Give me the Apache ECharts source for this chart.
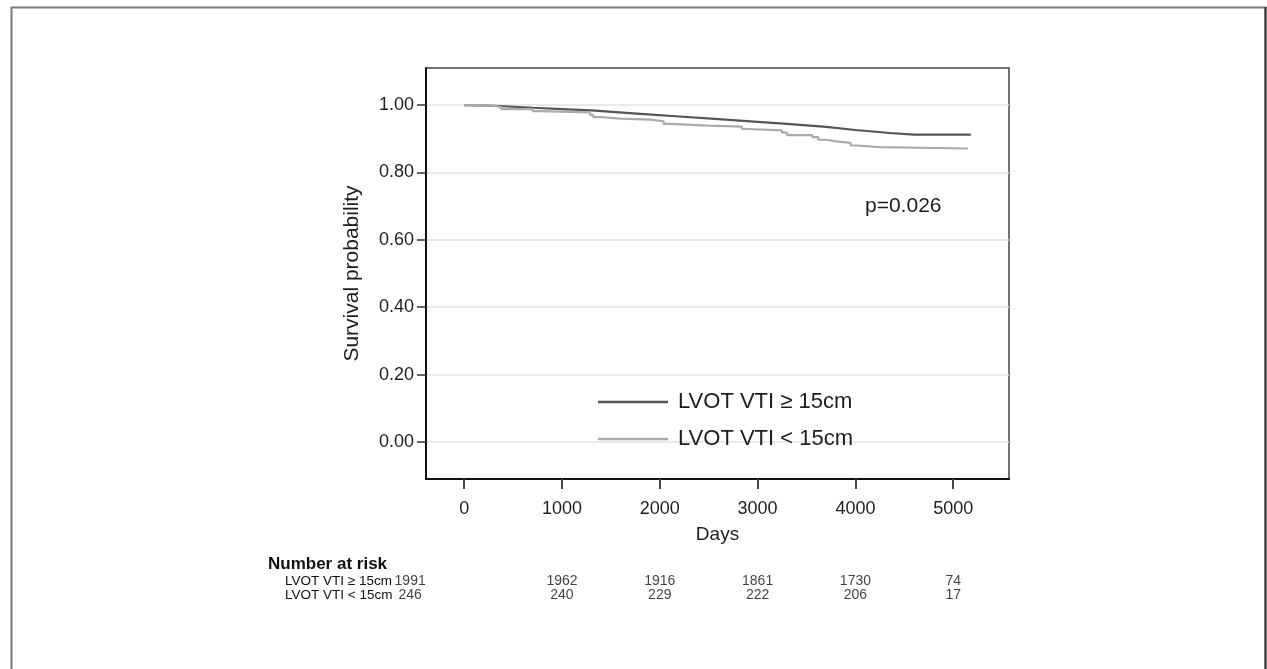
<!DOCTYPE html>
<html>
<head>
<meta charset="utf-8">
<script src="https://cdn.jsdelivr.net/npm/echarts@6/dist/echarts.min.js"></script>
<style>html,body{margin:0;padding:0;background:#fff}#c{width:1267px;height:669px}</style>
</head>
<body>
<div id="c"></div>
<script>
// ---- data ----
const xTicks = [0, 1000, 2000, 3000, 4000, 5000];
const yTicks = [0, 0.2, 0.4, 0.6, 0.8, 1.0];
const seriesNames = ['LVOT VTI \u2265 15cm', 'LVOT VTI < 15cm'];
// group 1 (higher VTI) – smooth-looking KM curve
const highDays = [0, 300, 700, 1000, 1300, 1800, 2200, 2600, 3000, 3300, 3700, 4000, 4350, 4600, 5180];
const highSurv = [1.000, 0.998, 0.992, 0.988, 0.984, 0.974, 0.966, 0.958, 0.950, 0.944, 0.935, 0.926, 0.917, 0.912, 0.912];
// group 2 (lower VTI) – stepped KM curve
const lowDays = [0, 150, 300, 380, 700, 760, 1290, 1320, 1400, 1600, 1900, 2040, 2100, 2500, 2840, 2900, 3250, 3300, 3560, 3620, 3700, 3800, 3950, 4020, 4240, 5150];
const lowSurv = [1.000, 0.998, 0.994, 0.988, 0.982, 0.978, 0.970, 0.964, 0.960, 0.957, 0.952, 0.944, 0.939, 0.936, 0.929, 0.925, 0.918, 0.911, 0.905, 0.897, 0.892, 0.888, 0.880, 0.875, 0.871, 0.871];
// number at risk
const riskDays = [0, 1000, 2000, 3000, 4000, 5000];
const riskHigh = [1991, 1962, 1916, 1861, 1730, 74];
const riskLow = [246, 240, 229, 222, 206, 17];
const pText = 'p=0.026';

const FONT = "'Liberation Sans Narrow','Arial Narrow',Arial,'Liberation Sans',sans-serif";
const TXT = '#1e1e1e';
const C_HIGH = '#555555';
const C_LOW = '#ababab';

const chart = echarts.init(document.getElementById('c'), null, {renderer: 'canvas'});
const zip = (a, b) => a.map((v, i) => [v, b[i]]);

function riskLabel(i) {
  // first column sits just right of the row label, the rest under the ticks
  return i === 0 ? {offset: [-54, 0]} : {};
}

const option = {
  animation: false,
  backgroundColor: '#fff',
  textStyle: {fontFamily: FONT, color: TXT},
  title: {text: 'Number at risk', left: 263, top: 551,
    textStyle: {fontFamily: FONT, fontSize: 17, fontWeight: 'bold', color: '#111'}},
  graphic: [
    {type: 'rect', shape: {x: 11.5, y: 7.5, width: 1254, height: 680}, style: {fill: 'none', stroke: '#7a7a7a', lineWidth: 2}, silent: true},
    {type: 'line', shape: {x1: 1265.5, y1: 7, x2: 1265.5, y2: 669}, style: {stroke: '#333', lineWidth: 2}, silent: true},
    {type: 'text', left: 865, top: 196, style: {text: pText, font: '21px ' + FONT, fill: TXT}}
  ],
  legend: {
    orient: 'vertical', left: 593, top: 386, itemWidth: 70, itemHeight: 2.5, itemGap: 15,
    textStyle: {fontFamily: FONT, fontSize: 22, lineHeight: 22, color: TXT, padding: [0, 0, 0, 5]},
    data: [{name: seriesNames[0], icon: 'rect'}, {name: seriesNames[1], icon: 'rect'}]
  },
  grid: [
    {left: 426, top: 68, width: 583, height: 411, show: true, borderColor: '#444', borderWidth: 1.5, containLabel: false},
    {left: 426, top: 574, width: 583, height: 28, show: false}
  ],
  xAxis: [
    {type: 'value', gridIndex: 0, min: -390, max: 5570,
     name: 'Days', nameLocation: 'middle', nameGap: 46,
     nameTextStyle: {fontFamily: FONT, fontSize: 19, color: TXT},
     axisLine: {show: true, onZero: false, lineStyle: {color: '#111', width: 2}},
     axisTick: {show: true, length: 10, customValues: xTicks, lineStyle: {color: '#444', width: 2}},
     axisLabel: {customValues: xTicks, margin: 21, fontFamily: FONT, fontSize: 18, color: TXT,
       formatter: v => String(v)},
     splitLine: {show: false}},
    {type: 'value', gridIndex: 1, min: -390, max: 5570, show: false}
  ],
  yAxis: [
    {type: 'value', gridIndex: 0, min: -0.11, max: 1.11,
     name: 'Survival probability', nameLocation: 'middle', nameGap: 63,
     nameTextStyle: {fontFamily: FONT, fontSize: 21, color: TXT},
     axisLine: {show: true, onZero: false, lineStyle: {color: '#111', width: 2}},
     axisTick: {show: true, length: 9, customValues: yTicks, lineStyle: {color: '#333', width: 1.5}},
     axisLabel: {customValues: yTicks, margin: 12, fontFamily: FONT, fontSize: 18, color: TXT,
       formatter: v => v.toFixed(2)},
     splitLine: {show: true, lineStyle: {color: '#e2e2e2', width: 1.5}}},
    {type: 'category', gridIndex: 1, data: [seriesNames[1], seriesNames[0]],
     axisLine: {show: false}, axisTick: {show: false},
     axisLabel: {show: true, interval: 0, align: 'left', margin: 141, fontFamily: FONT, fontSize: 13.5, color: '#111'}}
  ],
  series: [
    {name: seriesNames[0], type: 'line', xAxisIndex: 0, yAxisIndex: 0, data: zip(highDays, highSurv),
     showSymbol: false, symbol: 'none', color: C_HIGH, lineStyle: {color: C_HIGH, width: 2.2}},
    {name: seriesNames[1], type: 'line', step: 'end', xAxisIndex: 0, yAxisIndex: 0, data: zip(lowDays, lowSurv),
     showSymbol: false, symbol: 'none', color: C_LOW, lineStyle: {color: C_LOW, width: 2.2}},
    {type: 'scatter', xAxisIndex: 1, yAxisIndex: 1, symbolSize: 1, itemStyle: {color: 'rgba(0,0,0,0)'},
     data: riskDays.map((d, i) => ({value: [d, 1, riskHigh[i]], label: riskLabel(i)})),
     label: {show: true, position: 'inside', formatter: p => String(p.value[2]), fontFamily: FONT, fontSize: 14, color: '#111'}},
    {type: 'scatter', xAxisIndex: 1, yAxisIndex: 1, symbolSize: 1, itemStyle: {color: 'rgba(0,0,0,0)'},
     data: riskDays.map((d, i) => ({value: [d, 0, riskLow[i]], label: riskLabel(i)})),
     label: {show: true, position: 'inside', formatter: p => String(p.value[2]), fontFamily: FONT, fontSize: 14, color: '#111'}}
  ]
};
chart.setOption(option);
</script>
</body>
</html>
